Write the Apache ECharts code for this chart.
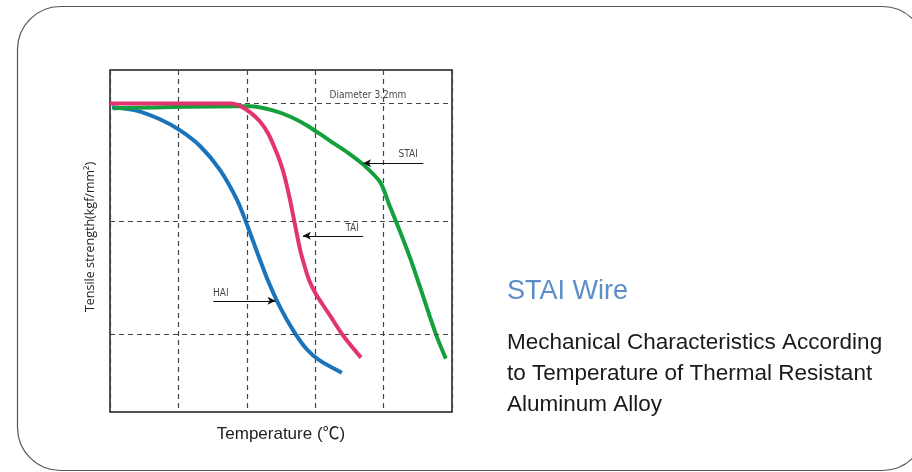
<!DOCTYPE html>
<html>
<head>
<meta charset="utf-8">
<script src="https://cdn.jsdelivr.net/npm/echarts@6/dist/echarts.min.js"></script>
<style>
  html, body { margin: 0; padding: 0; background: #fff; }
  #chart { width: 912px; height: 472px; }
</style>
</head>
<body>
<div id="chart"></div>
<script>
// temperature in grid units (5 columns), strength in % of plot height
const haiTemp = [0.03, 0.37, 0.73, 1.02, 1.32, 1.61, 1.86, 1.99, 2.15, 2.30, 2.49, 2.68, 2.87, 3.07, 3.39];
const haiStrength = [89.1, 88.2, 85.6, 82.4, 77.7, 70.7, 61.9, 55.5, 46.8, 38.9, 30.5, 23.8, 18.5, 15.0, 11.5];

const taiTemp = [0, 1.78, 1.90, 2.05, 2.19, 2.31, 2.41, 2.50, 2.57, 2.63, 2.70, 2.78, 2.84, 2.91, 3.01, 3.22, 3.41, 3.67];
const taiStrength = [90.2, 90.2, 89.5, 87.6, 85.0, 81.5, 77.1, 72.4, 67.5, 62.2, 55.2, 47.4, 43.0, 38.6, 34.5, 28.1, 22.3, 15.9];

const staiTemp = [0.04, 1.83, 2.05, 2.38, 2.63, 2.88, 3.07, 3.26, 3.48, 3.70, 3.95, 4.09, 4.24, 4.39, 4.53, 4.68, 4.78, 4.91];
const staiStrength = [88.8, 89.4, 89.4, 88.2, 86.4, 83.8, 81.3, 78.7, 75.8, 72.4, 67.2, 60.2, 52.8, 44.9, 36.7, 27.7, 21.9, 15.6];

const gridLevels = [22.6, 55.8, 90.2];

// annotation labels and arrows: [text x, text y, label, arrow from x, arrow to x, arrow y]
const notes = [
    [4.36, 75.2, 'STAI', 4.58, 3.70, 72.7],
    [3.54, 53.8, 'TAI', 3.70, 2.82, 51.5],
    [1.62, 34.6, 'HAI', 1.51, 2.42, 32.5]
];
const diameterNote = [3.77, 92.6, 'Diameter 3.2mm'];

const zip = (xs, ys) => xs.map((x, i) => [x, ys[i]]);

const chart = echarts.init(document.getElementById('chart'));

const dashStyle = { type: [5, 4], color: '#444', width: 1.2 };

const option = {
    animation: false,
    grid: {
        left: 110, right: 460, top: 70, bottom: 60,
        show: true, borderColor: '#1a1a1a', borderWidth: 1.5
    },
    xAxis: {
        type: 'value', min: 0, max: 5, interval: 1,
        axisLine: { show: false }, axisTick: { show: false }, axisLabel: { show: false },
        splitLine: { show: true, lineStyle: dashStyle },
        name: 'Temperature (℃)', nameLocation: 'middle', nameGap: 14,
        nameTextStyle: { fontFamily: "'Liberation Sans', 'Noto Sans CJK JP'", fontSize: 17, color: '#222' }
    },
    yAxis: {
        type: 'value', min: 0, max: 100,
        axisLine: { show: false }, axisTick: { show: false }, axisLabel: { show: false },
        splitLine: { show: false },
        name: 'Tensile strength(kgf/mm²)', nameLocation: 'middle', nameGap: 13,
        nameTextStyle: {
            fontFamily: 'Open Sans', fontSize: 12.5, color: '#222',
            padding: [0, 0, 0, 8]
        }
    },
    series: [
        {
            name: 'gridlines', type: 'line', data: [], silent: true, z: 1,
            markLine: {
                silent: true, symbol: 'none', label: { show: false },
                lineStyle: dashStyle,
                data: gridLevels.map(v => ({ yAxis: v }))
            }
        },
        {
            name: 'HAI', type: 'line', data: zip(haiTemp, haiStrength),
            smooth: 0.3, showSymbol: false, z: 3,
            lineStyle: { color: '#1a74bc', width: 4 }
        },
        {
            name: 'STAI', type: 'line', data: zip(staiTemp, staiStrength),
            smooth: 0.25, showSymbol: false, z: 4,
            lineStyle: { color: '#13a03d', width: 4 }
        },
        {
            name: 'TAI', type: 'line', data: zip(taiTemp, taiStrength),
            smooth: 0.3, showSymbol: false, z: 5,
            lineStyle: { color: '#e2356b', width: 4 }
        },
        {
            name: 'notes', type: 'scatter', symbolSize: 0, silent: true, z: 6,
            data: notes.map(n => [n[0], n[1], n[2]]).concat([diameterNote]),
            label: {
                show: true, position: 'inside', formatter: p => p.value[2],
                fontFamily: 'DejaVu Sans Condensed', fontSize: 10, color: '#111'
            },
            markLine: {
                silent: true, symbol: ['none', 'arrow'], symbolSize: [6, 8],
                label: { show: false },
                lineStyle: { type: 'solid', color: '#111', width: 1 },
                data: notes.map(n => [{ coord: [n[3], n[5]] }, { coord: [n[4], n[5]] }])
            }
        }
    ],
    graphic: [
        {
            type: 'rect', silent: true,
            shape: { x: 17.5, y: 6.5, width: 908, height: 464, r: 43 },
            style: { fill: 'none', stroke: '#555', lineWidth: 1.2 }
        },
        {
            type: 'text', left: 507, top: 278, silent: true,
            style: {
                text: 'STAI Wire', fontFamily: 'Liberation Sans', fontSize: 27,
                fill: '#5b8ec8'
            }
        },
        {
            type: 'text', left: 507, top: 327, silent: true,
            style: {
                text: 'Mechanical Characteristics According\nto Temperature of Thermal Resistant\nAluminum Alloy',
                fontFamily: 'Liberation Sans', fontSize: 22.5, lineHeight: 31,
                fill: '#1a1a1a'
            }
        }
    ]
};

chart.setOption(option);
</script>
</body>
</html>
